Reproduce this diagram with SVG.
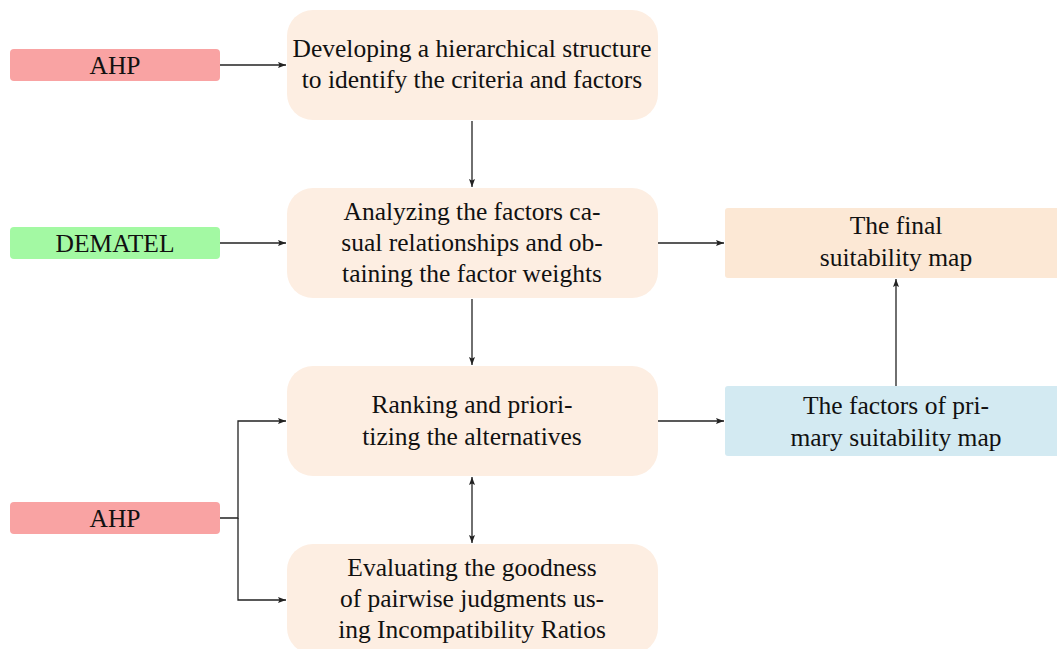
<svg xmlns="http://www.w3.org/2000/svg" width="1057" height="649" viewBox="0 0 1057 649">
<defs>
<marker id="ah" markerWidth="10" markerHeight="8" refX="8" refY="4" orient="auto-start-reverse" markerUnits="userSpaceOnUse">
<path d="M0,1 L8,4 L0,7 L1.5,4 Z" fill="#222"/>
</marker>
<style>
.t{font-family:"Liberation Serif","DejaVu Serif",serif;font-size:25.5px;fill:#111;text-anchor:middle}
.proc{fill:#FDEEE2}
.ahp{fill:#F9A3A3}
.dem{fill:#A3F9A3}
.fin{fill:#FCE8D5}
.pri{fill:#D3EAF2}
.c{fill:none;stroke:#222;stroke-width:1.3;marker-end:url(#ah)}
</style>
</defs>
<rect width="1057" height="649" fill="#fff"/>
<g id="ahp1"><rect class="ahp" x="10" y="49" width="210" height="32" rx="4"/><text class="t" x="115" y="74">AHP</text></g>
<g id="dematel"><rect class="dem" x="10" y="227" width="210" height="32" rx="4"/><text class="t" x="115" y="252">DEMATEL</text></g>
<g id="ahp2"><rect class="ahp" x="10" y="502" width="210" height="32" rx="4"/><text class="t" x="115" y="527">AHP</text></g>
<g id="develop"><rect class="proc" x="287" y="10" width="371" height="110" rx="26"/><text class="t" x="472" y="57">Developing a hierarchical structure</text><text class="t" x="472" y="88">to identify the criteria and factors</text></g>
<g id="analyze"><rect class="proc" x="287" y="188" width="371" height="110" rx="26"/><text class="t" x="472" y="220">Analyzing the factors ca-</text><text class="t" x="472" y="251">sual relationships and ob-</text><text class="t" x="472" y="282">taining the factor weights</text></g>
<g id="rank"><rect class="proc" x="287" y="366" width="371" height="110" rx="26"/><text class="t" x="472" y="413">Ranking and priori-</text><text class="t" x="472" y="445">tizing the alternatives</text></g>
<g id="evaluate"><rect class="proc" x="287" y="544" width="371" height="110" rx="26"/><text class="t" x="472" y="576">Evaluating the goodness</text><text class="t" x="472" y="607">of pairwise judgments us-</text><text class="t" x="472" y="638">ing Incompatibility Ratios</text></g>
<g id="final"><rect class="fin" x="725" y="208" width="340" height="70" rx="3"/><text class="t" x="896" y="234">The final</text><text class="t" x="896" y="266">suitability map</text></g>
<g id="primary"><rect class="pri" x="725" y="386" width="340" height="70" rx="3"/><text class="t" x="896" y="414">The factors of pri-</text><text class="t" x="896" y="446">mary suitability map</text></g>
<g id="connectors">
<path class="c" d="M220,65 H286"/>
<path class="c" d="M472,121 V187"/>
<path class="c" d="M220,243 H286"/>
<path class="c" d="M658,243 H724"/>
<path class="c" d="M472,299 V365"/>
<path class="c" d="M658,421 H724"/>
<path class="c" d="M896,386 V279"/>
<path class="c" d="M472,477 V543" style="marker-start:url(#ah)"/>
<path class="c" d="M220,518 H238 V421 H286"/>
<path class="c" d="M238,518 V600 H286"/>
</g>
</svg>
